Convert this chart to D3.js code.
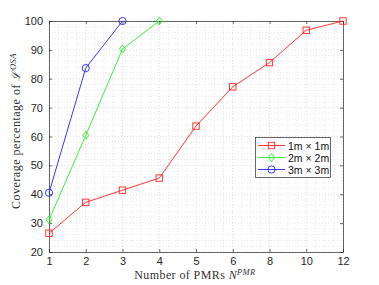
<!DOCTYPE html>
<html><head><meta charset="utf-8">
<script src="https://cdn.jsdelivr.net/npm/d3@7/dist/d3.min.js"></script>
<style>body{margin:0;background:#fff}svg{display:block}</style>
</head><body>
<script>
const categories = ["1","2","3","4","5","6","8","10","12"];
const series1 = [26.5, 37.2, 41.4, 45.6, 63.6, 77.2, 85.6, 96.8, 100];
const series2 = [31.1, 60.4, 90.3, 100];
const series3 = [40.5, 83.7, 100];
const seriesNames = ["1m \u00d7 1m", "2m \u00d7 2m", "3m \u00d7 3m"];
const yTicks = [20,30,40,50,60,70,80,90,100];

const W=379,H=285, L=49,R=343,T=21,B=252;
const svg=d3.select("body").append("svg").attr("width",W).attr("height",H);
const x=d3.scalePoint().domain(categories).range([L,R]);
const y=d3.scaleLinear().domain([20,100]).range([B,T]);
const step=x.step();

const g=svg.append("g");
// minor grid
const minorX=[];
for(let i=0;i<categories.length-1;i++){for(let k=1;k<4;k++)minorX.push(L+i*step+k*step/4);}
const minorY=[];
for(let v=20;v<100;v+=10){for(let k=1;k<5;k++)minorY.push(v+k*2);}
g.selectAll(".mx").data(minorX).join("line").attr("x1",d=>d).attr("x2",d=>d).attr("y1",T).attr("y2",B)
 .attr("stroke","#d8d8d8").attr("stroke-width",0.6).attr("stroke-dasharray","1,2");
g.selectAll(".my").data(minorY).join("line").attr("y1",d=>y(d)).attr("y2",d=>y(d)).attr("x1",L).attr("x2",R)
 .attr("stroke","#d8d8d8").attr("stroke-width",0.6).attr("stroke-dasharray","1,2");
// major grid
g.selectAll(".gx").data(categories).join("line").attr("x1",d=>x(d)).attr("x2",d=>x(d)).attr("y1",T).attr("y2",B)
 .attr("stroke","#cfcfcf").attr("stroke-width",0.7).attr("stroke-dasharray","1,2");
g.selectAll(".gy").data(yTicks).join("line").attr("y1",d=>y(d)).attr("y2",d=>y(d)).attr("x1",L).attr("x2",R)
 .attr("stroke","#cfcfcf").attr("stroke-width",0.7).attr("stroke-dasharray","1,2");

// axes
const axB=d3.axisBottom(x).tickSizeInner(-3).tickSizeOuter(0).tickPadding(5);
const axL=d3.axisLeft(y).tickValues(yTicks).tickSizeInner(-3).tickSizeOuter(0).tickPadding(6);
const axT=d3.axisTop(x).tickSizeInner(-3).tickSizeOuter(0).tickFormat("");
const axR=d3.axisRight(y).tickValues(yTicks).tickSizeInner(-3).tickSizeOuter(0).tickFormat("");
[[axB,`translate(0,${B})`],[axL,`translate(${L},0)`],[axT,`translate(0,${T})`],[axR,`translate(${R},0)`]].forEach(([a,t])=>{
  const s=svg.append("g").attr("transform",t).call(a);
  s.selectAll("path,line").attr("stroke","#262626").attr("stroke-width",0.7);
  s.selectAll("text").attr("font-family","Liberation Sans, Arial, sans-serif").attr("font-size",11).attr("fill","#262626");
});

// lines
const colors=["#ff2020","#20ee20","#2020ff"];
const all=[series1,series2,series3];
const line=d3.line().x((d,i)=>x(categories[i])).y(d=>y(d));
all.forEach((s,si)=>{
  svg.append("path").datum(s).attr("d",line).attr("fill","none").attr("stroke",colors[si]).attr("stroke-width",0.9);
});
function marker(sel,si,cx,cy){
  const c=colors[si];
  if(si===0) sel.append("rect").attr("x",cx-3.2).attr("y",cy-3.2).attr("width",6.4).attr("height",6.4).attr("fill","none").attr("stroke",c).attr("stroke-width",0.9);
  else if(si===1) sel.append("path").attr("d",`M${cx},${cy-4}L${cx+3},${cy}L${cx},${cy+4}L${cx-3},${cy}Z`).attr("fill","none").attr("stroke",c).attr("stroke-width",0.9);
  else sel.append("circle").attr("cx",cx).attr("cy",cy).attr("r",3.6).attr("fill","none").attr("stroke",c).attr("stroke-width",0.9);
}
all.forEach((s,si)=>{ s.forEach((v,i)=>marker(svg,si,x(categories[i]),y(v))); });

// legend
const lg=svg.append("g");
lg.append("rect").attr("x",255.5).attr("y",137.5).attr("width",75).attr("height",40).attr("fill","#fff").attr("stroke","#262626").attr("stroke-width",0.7);
seriesNames.forEach((n,i)=>{
  const yy=145.5+i*12;
  lg.append("line").attr("x1",258).attr("x2",285).attr("y1",yy).attr("y2",yy).attr("stroke",colors[i]).attr("stroke-width",0.9);
  marker(lg,i,271.5,yy);
  lg.append("text").attr("x",288).attr("y",yy+4).text(n).attr("font-family","Liberation Sans, Arial, sans-serif").attr("font-size",10.5).attr("fill","#111");
});

// axis labels
const xl=svg.append("text").attr("x",195).attr("y",279).attr("text-anchor","middle").attr("letter-spacing",0.4)
 .attr("font-family","Liberation Serif, DejaVu Serif, serif").attr("font-size",12).attr("fill","#333");
xl.append("tspan").text("Number of PMRs ");
xl.append("tspan").attr("font-style","italic").text("N");
xl.append("tspan").attr("font-style","italic").attr("font-size",8.5).attr("dy",-4).text("PMR");
const yl=svg.append("text").attr("transform","translate(20,131) rotate(-90)").attr("text-anchor","middle").attr("letter-spacing",0.5)
 .attr("font-family","Liberation Serif, DejaVu Serif, serif").attr("font-size",12).attr("fill","#333");
yl.append("tspan").text("Coverage percentage of ");
yl.append("tspan").attr("font-style","italic").attr("font-family","DejaVu Serif, serif").attr("font-size",11.5).text("\u2112");
yl.append("tspan").attr("font-style","italic").attr("font-size",8.5).attr("dy",-4).text("OSA");
</script>
</body></html>
